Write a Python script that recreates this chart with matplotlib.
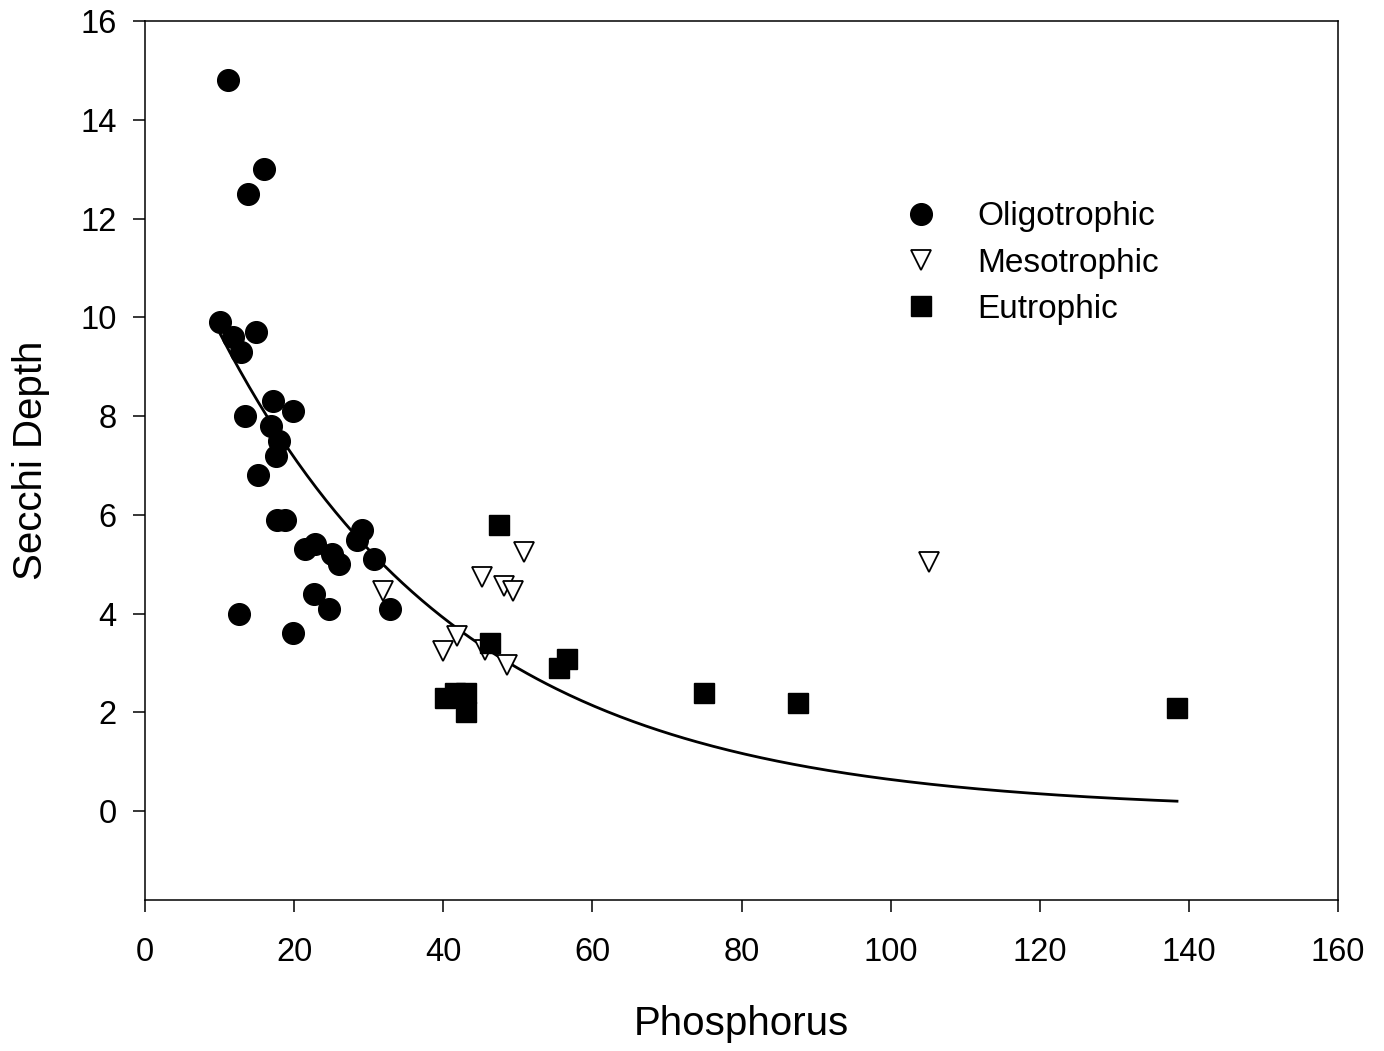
import numpy as np
import matplotlib
matplotlib.use("Agg")
import matplotlib.pyplot as plt

plt.rcParams["font.family"] = ["Liberation Sans", "DejaVu Sans"]

# Oligotrophic lakes (phosphorus, secchi depth)
oligo_p = [11.1, 16.0, 13.8, 10.1, 11.8, 14.9, 12.9, 17.2, 19.8, 13.4, 16.9,
           18.0, 17.6, 15.2, 17.7, 18.8, 21.4, 22.8, 25.1, 26.0, 29.1, 28.4,
           30.7, 22.7, 24.7, 32.9, 12.6, 19.9]
oligo_s = [14.8, 13.0, 12.5, 9.9, 9.6, 9.7, 9.3, 8.3, 8.1, 8.0, 7.8,
           7.5, 7.2, 6.8, 5.9, 5.9, 5.3, 5.4, 5.2, 5.0, 5.7, 5.5,
           5.1, 4.4, 4.1, 4.1, 4.0, 3.6]

# Mesotrophic lakes
meso_p = [31.9, 41.9, 40.0, 45.2, 48.1, 49.4, 50.8, 45.6, 48.6, 105.1]
meso_s = [4.46, 3.54, 3.25, 4.75, 4.56, 4.46, 5.25, 3.26, 2.96, 5.04]

# Eutrophic lakes
eutro_p = [47.5, 46.2, 56.6, 55.5, 40.2, 41.6, 43.1, 43.0, 75.0, 87.6, 138.4]
eutro_s = [5.79, 3.40, 3.09, 2.89, 2.30, 2.40, 2.40, 2.01, 2.39, 2.19, 2.09]

# exponential decay fit y = a * exp(-b * x), parameters
fit_a = 13.1
fit_b = 0.0302


def main() -> None:
    fig = plt.figure(figsize=(13.84, 10.51), dpi=100)
    ax = fig.add_axes([0.1048, 0.1437, 0.862, 0.8363])

    ax.plot(oligo_p, oligo_s, linestyle="none", marker="o", markersize=15.6,
            color="black", label="Oligotrophic", zorder=3)
    ax.plot(meso_p, meso_s, linestyle="none", marker="v", markersize=14.5,
            markerfacecolor="white", markeredgecolor="black",
            markeredgewidth=1.3, label="Mesotrophic", zorder=3)
    ax.plot(eutro_p, eutro_s, linestyle="none", marker="s", markersize=13.7,
            color="black", label="Eutrophic", zorder=3)

    all_p = oligo_p + meso_p + eutro_p
    xs = np.linspace(min(all_p), max(all_p), 300)
    ax.plot(xs, fit_a * np.exp(-fit_b * xs), color="black", lw=2.0, zorder=2)

    ax.set_xlim(0, 160)
    ax.set_ylim(-1.8, 16)
    ax.set_xticks(range(0, 161, 20))
    ax.set_yticks(range(0, 17, 2))

    for s in ax.spines.values():
        s.set_linewidth(1.1)
    ax.tick_params(direction="out", length=8.5, width=1.1, labelsize=23.5)
    ax.tick_params(axis="x", pad=18)
    ax.tick_params(axis="y", pad=12)

    ax.set_xlabel("Phosphorus", fontsize=29, labelpad=27)
    ax.set_ylabel("Secchi Depth", fontsize=29, labelpad=22)

    ax.legend(loc="upper left", bbox_to_anchor=(0.6225, 0.81),
              frameon=False, fontsize=24, handlelength=1.2,
              handletextpad=1.08, labelspacing=0.46, borderaxespad=0)

    fig.savefig("out.png", dpi=100)
    plt.close(fig)


if __name__ == "__main__":
    main()
